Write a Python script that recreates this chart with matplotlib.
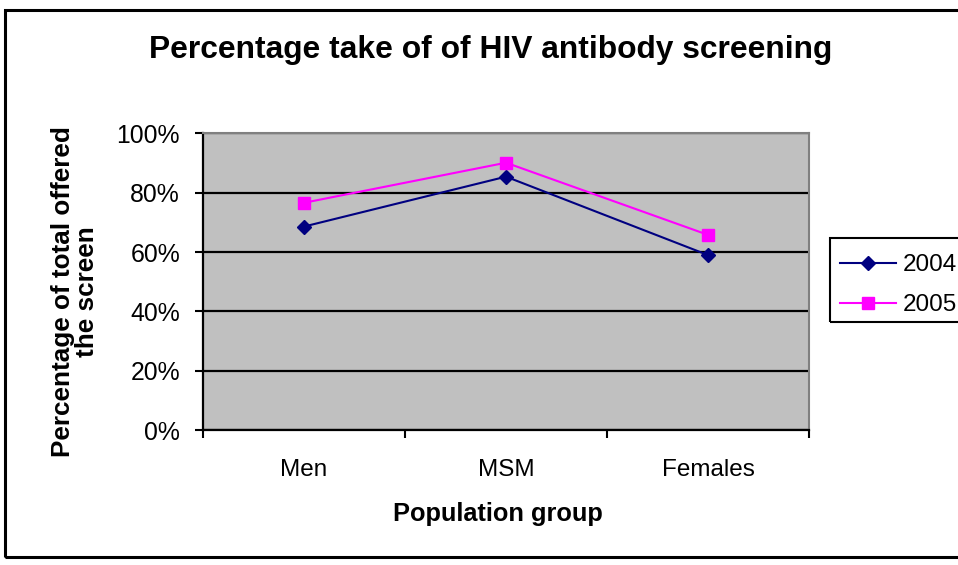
#!/usr/bin/env python3
"""Percentage uptake of HIV antibody screening, 2004 vs 2005."""

import matplotlib

matplotlib.use("Agg")
import matplotlib.pyplot as plt
from matplotlib.patches import Rectangle
from matplotlib.ticker import FuncFormatter

plt.rcParams["font.family"] = ["Liberation Sans", "DejaVu Sans"]

groups = ["Men", "MSM", "Females"]
years = ["2004", "2005"]
uptake_2004 = [68.6, 85.4, 59.0]
uptake_2005 = [76.6, 90.1, 65.8]
y_ticks = [0, 20, 40, 60, 80, 100]


def main() -> int:
    fig = plt.figure(figsize=(9.58, 5.65), dpi=100)
    W, H = 958, 565

    # axes placed in pixel terms of the reference
    left, right, top, bottom = 203, 809, 133.3, 430.3
    ax = fig.add_axes([left / W, 1 - bottom / H, (right - left) / W, (bottom - top) / H])
    ax.set_facecolor("#C0C0C0")

    x = [i + 0.5 for i in range(len(groups))]
    ax.plot(x, uptake_2004, color="#000080", lw=1.5, marker="D", ms=7.5,
            label=years[0], zorder=4, clip_on=False)
    ax.plot(x, uptake_2005, color="#FF00FF", lw=1.5, marker="s", ms=8.2,
            label=years[1], zorder=4, clip_on=False)

    ax.set_xlim(0, len(groups))
    ax.set_ylim(0, 100)
    ax.set_yticks(y_ticks)
    ax.yaxis.set_major_formatter(FuncFormatter(lambda v, _: f"{v:.0f}%"))
    ax.set_xticks(range(len(groups) + 1))
    ax.set_xticklabels([])
    ax.set_xticks(x, minor=True)
    ax.set_xticklabels(groups, minor=True)
    ax.tick_params(axis="x", which="minor", length=0, labelsize=17.5, pad=21)
    ax.tick_params(axis="x", which="major", length=6, width=1.5, color="black")
    ax.tick_params(axis="y", length=6, width=1.5, labelsize=17.8, pad=10.5)
    ax.grid(axis="y", color="black", lw=1.6, zorder=1)
    ax.set_axisbelow(True)

    for side in ("left", "bottom"):
        ax.spines[side].set_color("black")
        ax.spines[side].set_linewidth(1.6)
    for side in ("top", "right"):
        ax.spines[side].set_color("#808080")
        ax.spines[side].set_linewidth(1.5)

    fig.text(498 / W, 1 - 514 / H, "Population group", ha="center", va="center",
             fontsize=18.3, fontweight="bold")
    fig.text(75 / W, 1 - 292 / H, "Percentage of total offered\nthe screen",
             ha="center", va="center", rotation=90, fontsize=18.8,
             fontweight="bold", linespacing=1.0, multialignment="center")

    fig.text(491 / W, 1 - 50 / H, "Percentage take of of HIV antibody screening",
             ha="center", va="center", fontsize=22.9, fontweight="bold")

    # legend entries without frame; frame drawn separately to match the offsets
    fig.legend(loc="upper left", bbox_to_anchor=(840 / W, 1 - 254 / H),
               fontsize=17.5, frameon=False, handlelength=2.3,
               handletextpad=0.3, borderpad=0.0, labelspacing=0.75,
               borderaxespad=0)
    fig.patches.append(Rectangle((830 / W, 1 - 322 / H), 140 / W, (322 - 238) / H,
                                 transform=fig.transFigure, fill=False,
                                 edgecolor="black", lw=1.5, clip_on=False))

    # outer chart border, running off the right edge like the source
    fig.patches.append(Rectangle((5 / W, 1 - 557 / H), 980 / W, (557 - 10) / H,
                                 transform=fig.transFigure, fill=False,
                                 edgecolor="black", lw=2.2, clip_on=False))

    fig.savefig("out.png", dpi=100)
    plt.close(fig)
    return 0


if __name__ == "__main__":
    raise SystemExit(main())
